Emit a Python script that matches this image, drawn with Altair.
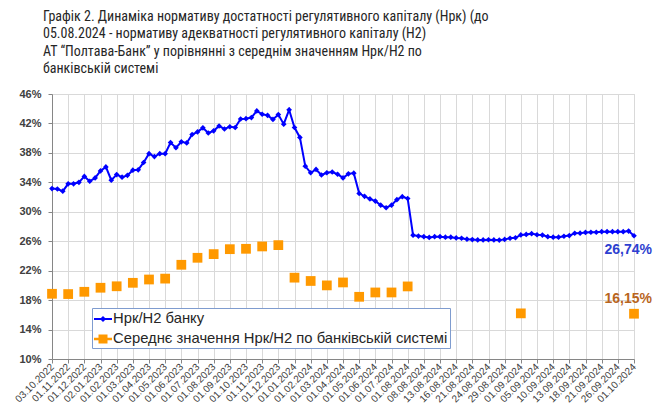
import altair as alt
import pandas as pd

# ---------------- data ----------------
x_labels = [
    "03.10.2022", "01.11.2022", "01.12.2022", "02.01.2023", "01.02.2023", "01.03.2023",
    "01.04.2023", "01.05.2023", "01.06.2023", "01.07.2023", "01.08.2023", "01.09.2023",
    "01.10.2023", "01.11.2023", "01.12.2023", "01.01.2024", "01.02.2024", "01.03.2024",
    "01.04.2024", "01.05.2024", "01.06.2024", "01.07.2024", "01.08.2024", "08.08.2024",
    "13.08.2024", "16.08.2024", "21.08.2024", "24.08.2024", "29.08.2024", "01.09.2024",
    "05.09.2024", "10.09.2024", "13.09.2024", "18.09.2024", "21.09.2024", "26.09.2024",
    "01.10.2024",
]
points_per_label = 3

bank_values = [
    33.15, 33.10, 32.80, 33.80, 33.80, 34.00, 34.80, 34.15, 34.60, 35.55,
    36.10, 34.30, 35.05, 34.70, 34.95, 35.65, 35.70, 36.70, 37.90, 37.50,
    37.90, 37.90, 39.40, 38.70, 39.50, 39.35, 40.50, 40.85, 41.40, 40.70,
    41.00, 41.65, 41.25, 41.55, 41.45, 42.60, 42.65, 42.80, 43.70, 43.25,
    43.10, 42.55, 43.20, 41.90, 43.85, 41.45, 40.10, 36.20, 35.30, 35.75,
    35.00, 35.30, 35.40, 35.10, 34.60, 35.15, 35.25, 32.50, 32.10, 31.75,
    31.45, 30.90, 30.55, 30.90, 31.65, 32.05, 31.80, 26.82, 26.70, 26.62,
    26.52, 26.62, 26.62, 26.55, 26.55, 26.45, 26.40, 26.28, 26.22, 26.18,
    26.18, 26.20, 26.18, 26.15, 26.25, 26.40, 26.47, 26.86, 26.92, 27.03,
    26.88, 26.83, 26.62, 26.55, 26.55, 26.68, 26.77, 27.08, 27.10, 27.20,
    27.22, 27.22, 27.30, 27.30, 27.30, 27.30, 27.30, 27.38, 26.74,
]

system_label_pos = list(range(0, 23)) + [29, 36]
system_values = [
    18.86, 18.82, 19.13, 19.68, 19.88, 20.35, 20.80, 20.92, 22.80, 23.75,
    24.25, 24.92, 24.97, 25.29, 25.47, 21.05, 20.60, 20.00, 20.40, 18.45,
    19.04, 19.04, 19.86, 16.20, 16.15,
]

bank_name = "Нрк/Н2 банку"
system_name = "Середнє значення Нрк/Н2 по банківській системі"
end_labels = ["26,74%", "16,15%"]

title_lines = [
    "Графік 2. Динаміка нормативу достатності регулятивного капіталу (Нрк) (до",
    "05.08.2024 - нормативу адекватності регулятивного капіталу (Н2)",
    "АТ “Полтава-Банк” у порівнянні з середнім значенням Нрк/Н2 по",
    "банківській системі",
]

y_ticks = [10, 14, 18, 22, 26, 30, 34, 38, 42, 46]

# ---------------- tables ----------------
n_last = len(bank_values) - 1
bank_df = pd.DataFrame({"idx": list(range(len(bank_values))), "value": bank_values})
sys_df = pd.DataFrame({
    "idx": [k * points_per_label for k in system_label_pos],
    "value": system_values,
})
legend_df = pd.DataFrame({"idx": [0, 0], "value": [30, 30], "series": [bank_name, system_name]})
bank_end = pd.DataFrame({"idx": [n_last], "value": [bank_values[-1]], "text": [end_labels[0]]})
sys_end = pd.DataFrame({"idx": [system_label_pos[-1] * points_per_label], "value": [system_values[-1]], "text": [end_labels[1]]})

BLUE = "#0000FF"
ORANGE = "#FF9900"
FONT = "Liberation Sans"

label_array = "[" + ",".join("'" + s + "'" for s in x_labels) + "]"

x_enc = alt.X(
    "idx:Q",
    scale=alt.Scale(domain=[0, n_last], nice=False, zero=False),
    axis=alt.Axis(
        values=list(range(0, n_last + 1, points_per_label)),
        labelExpr=label_array + "[round(datum.value / " + str(points_per_label) + ")]",
        labelAngle=315,
        labelAlign="right",
        labelBaseline="middle",
        labelFontSize=10,
        labelColor="#404040",
        labelFont=FONT,
        labelPadding=2,
        labelOverlap=False,
        labelBound=False,
        tickSize=4,
        tickColor="#868686",
        domainColor="#868686",
        gridColor="#d9d9d9",
        title=None,
    ),
)
y_enc = alt.Y(
    "value:Q",
    scale=alt.Scale(domain=[10, 46], nice=False, zero=False),
    axis=alt.Axis(
        values=y_ticks,
        labelExpr="datum.value + '%'",
        labelFontSize=11,
        labelFontWeight="bold",
        labelColor="#404040",
        labelFont=FONT,
        labelPadding=7,
        labelOverlap=False,
        tickSize=4,
        tickColor="#868686",
        domainColor="#868686",
        gridColor="#d9d9d9",
        title=None,
    ),
)

# legend symbols: a short line with the series marker on it (filled shapes only)
bank_path = "M-1,-0.11L1,-0.11L1,0.11L-1,0.11ZM-0.34,0L0,-0.34L0.34,0L0,0.34Z"
sys_path = "M-1,-0.13L1,-0.13L1,0.13L-1,0.13ZM-0.5,-0.5L0.5,-0.5L0.5,0.5L-0.5,0.5Z"

series_domain = [bank_name, system_name]

bank_layer = alt.Chart(bank_df).mark_line(
    strokeWidth=2,
    color=BLUE,
    point=alt.OverlayMarkDef(shape="diamond", size=32, filled=True, opacity=1, color=BLUE),
).encode(x=x_enc, y=y_enc)

sys_layer = alt.Chart(sys_df).mark_square(size=95, opacity=1, filled=True, color=ORANGE).encode(
    x=x_enc, y=y_enc
)

legend_spec = alt.Legend(
    title=None,
    orient="none",
    legendX=40,
    legendY=214,
    direction="vertical",
    symbolSize=324,
    symbolStrokeWidth=0,
    symbolOpacity=1,
    labelFontSize=14.8,
    labelFont=FONT,
    labelColor="#262626",
    labelOffset=1,
    labelLimit=600,
    labelExpr="datum.label + '\u00a0\u00a0\u00a0\u00a0'",
    rowPadding=4,
    padding=2,
    fillColor="white",
    strokeColor="#7f9ccf",
)

legend_layer = alt.Chart(legend_df).mark_point(opacity=0, filled=True).encode(
    x=x_enc,
    y=y_enc,
    color=alt.Color(
        "series:N",
        scale=alt.Scale(domain=series_domain, range=[BLUE, ORANGE]),
        legend=legend_spec,
    ),
    shape=alt.Shape(
        "series:N",
        scale=alt.Scale(domain=series_domain, range=[bank_path, sys_path]),
        legend=legend_spec,
    ),
)

bank_text = alt.Chart(bank_end).mark_text(
    align="right", baseline="middle", dx=18, dy=14, fontSize=14, fontWeight="bold",
    font=FONT, color="#2E3FD0",
).encode(x=x_enc, y=y_enc, text="text:N")

sys_text = alt.Chart(sys_end).mark_text(
    align="right", baseline="middle", dx=18, dy=-15, fontSize=14, fontWeight="bold",
    font=FONT, color="#B8651E",
).encode(x=x_enc, y=y_enc, text="text:N")

chart = (
    alt.layer(bank_layer, sys_layer, legend_layer, bank_text, sys_text)
    .properties(
        width=582,
        height=265,
        autosize=alt.AutoSizeParams(type="none"),
        padding={"left": 44, "top": 86, "right": 24, "bottom": 53},
        title=alt.TitleParams(
            text=title_lines,
            anchor="start",
            frame="group",
            fontSize=14,
            fontWeight="normal",
            font="Liberation Sans Narrow, Roboto Condensed, Liberation Sans",
            color="#262626",
            lineHeight=17.5,
            dx=-9,
            offset=12,
        ),
    )
    .configure_view(stroke="#d9d9d9")
)

chart.save("out.html", embed_options={"renderer": "svg", "actions": False})
